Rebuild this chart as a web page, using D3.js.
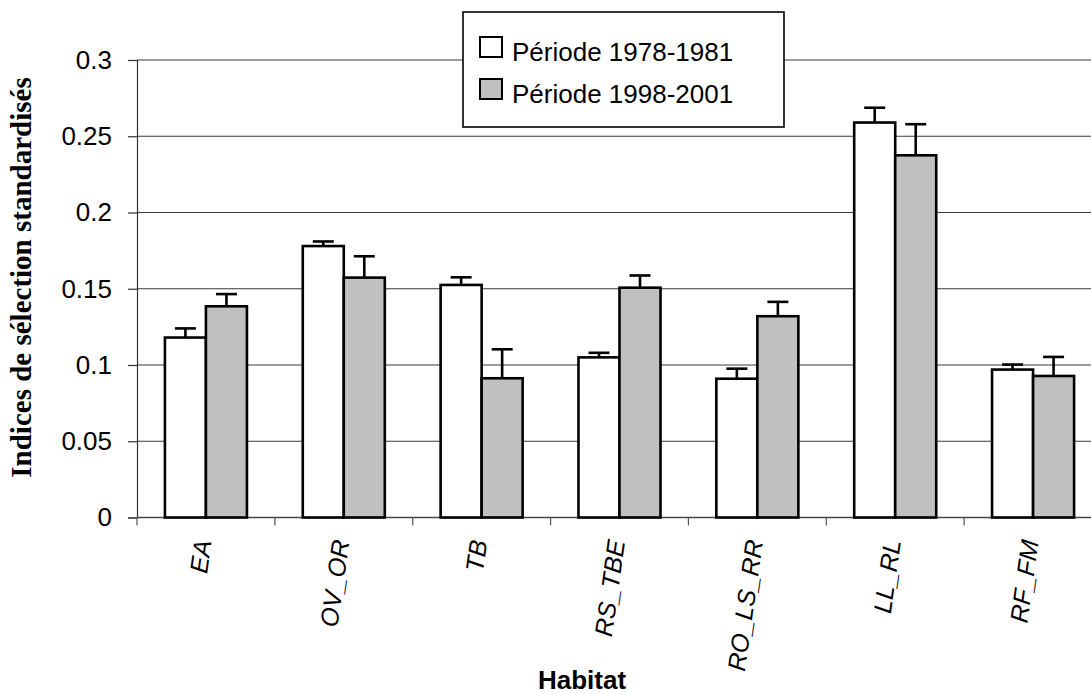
<!DOCTYPE html>
<meta charset="utf-8">
<html>
  <head>
    <script src="https://d3js.org/d3.v7.min.js"></script>
    <title>Indices de sélection standardisés par habitat</title>
    <style>
      body { margin: 0; background: white; }
      svg { display: block; }
      text { font-family: "Liberation Sans", Arial, sans-serif; fill: black; }
    </style>
  </head>
  <body>
  </body>
  <script>

const habitats = ['EA', 'OV_OR', 'TB', 'RS_TBE', 'RO_LS_RR', 'LL_RL', 'RF_FM'];
const periods = ['Période 1978-1981', 'Période 1998-2001'];

// means and (upper) error bars
const values_1978 = [0.118, 0.178, 0.1525, 0.105, 0.091, 0.259, 0.097];
const errors_1978 = [0.006, 0.003, 0.005, 0.003, 0.0066, 0.0097, 0.0033];
const values_1998 = [0.1385, 0.1573, 0.0913, 0.1507, 0.132, 0.2375, 0.0928];
const errors_1998 = [0.008, 0.014, 0.019, 0.008, 0.0094, 0.0204, 0.0125];

const y_ticks = [0, 0.05, 0.1, 0.15, 0.2, 0.25, 0.3];
const y_tick_labels = ['0', '0.05', '0.1', '0.15', '0.2', '0.25', '0.3'];

const width = 1091,
      height = 694,
      plot_left = 137, plot_right = 1102, plot_top = 60, plot_bottom = 517.5,
      fills = ['#ffffff', '#c0c0c0'];

const svg = d3.select('body')
  .append('svg')
  .attr('width', width)
  .attr('height', height);

const x0 = d3.scaleBand().domain(habitats).range([plot_left, plot_right]).paddingInner(0.405).paddingOuter(0.2025),
      x1 = d3.scaleBand().domain(periods).range([0, x0.bandwidth()]),
      y = d3.scaleLinear().domain([0, 0.3]).range([plot_bottom, plot_top]);

const rows = habitats.map((h, i) => ({
  habitat: h,
  bars: [
    { period: periods[0], value: values_1978[i], err: errors_1978[i], fill: fills[0] },
    { period: periods[1], value: values_1998[i], err: errors_1998[i], fill: fills[1] }
  ]
}));

// gridlines
svg.append('g')
  .selectAll('line')
  .data(y_ticks.slice(1))
  .join('line')
    .attr('x1', plot_left).attr('x2', width)
    .attr('y1', d => y(d)).attr('y2', d => y(d))
    .style('stroke', '#3a3a3a')
    .style('stroke-width', 1.2);

// y axis
const y_axis = svg.append('g')
  .attr('transform', `translate(${plot_left},0)`)
  .call(d3.axisLeft(y).tickValues(y_ticks).tickSize(9).tickPadding(16)
    .tickFormat((d, i) => y_tick_labels[i]));
y_axis.select('.domain').style('stroke', '#333').style('stroke-width', 1.2);
y_axis.selectAll('.tick line').style('stroke', '#333').style('stroke-width', 1.2);
y_axis.selectAll('.tick text')
  .style('font-size', '26px')
  .style('font-family', '"Liberation Sans", Arial, sans-serif');

// x axis: baseline and ticks at band boundaries
const step = x0.step(),
      boundaries = habitats.map(h => x0(h) - step * x0.paddingInner() / 2).concat([plot_right]);

svg.append('line')
  .attr('x1', plot_left).attr('x2', width)
  .attr('y1', plot_bottom).attr('y2', plot_bottom)
  .style('stroke', '#474747')
  .style('stroke-width', 1.5);

svg.append('g')
  .selectAll('line')
  .data(boundaries)
  .join('line')
    .attr('x1', d => d).attr('x2', d => d)
    .attr('y1', plot_bottom).attr('y2', plot_bottom + 8)
    .style('stroke', '#555')
    .style('stroke-width', 1.2);

// bars
const group = svg.append('g')
  .selectAll('g')
  .data(rows)
  .join('g')
    .attr('transform', d => `translate(${x0(d.habitat)},0)`);

group.selectAll('rect')
  .data(d => d.bars)
  .join('rect')
    .attr('x', d => x1(d.period))
    .attr('y', d => y(d.value))
    .attr('width', x1.bandwidth())
    .attr('height', d => plot_bottom - y(d.value))
    .style('fill', d => d.fill)
    .style('stroke', 'black')
    .style('stroke-width', 2.6);

// error bars (upper only)
const cap = 21;
const err = group.selectAll('g.err')
  .data(d => d.bars)
  .join('g')
    .attr('class', 'err')
    .attr('transform', d => `translate(${x1(d.period) + x1.bandwidth() / 2},0)`);

err.append('line')
  .attr('x1', 0).attr('x2', 0)
  .attr('y1', d => y(d.value)).attr('y2', d => y(d.value + d.err))
  .style('stroke', 'black').style('stroke-width', 2.6);

err.append('line')
  .attr('x1', -cap / 2).attr('x2', cap / 2)
  .attr('y1', d => y(d.value + d.err)).attr('y2', d => y(d.value + d.err))
  .style('stroke', 'black').style('stroke-width', 2.6);

// category labels
svg.append('g')
  .selectAll('text')
  .data(habitats)
  .join('text')
    .attr('transform', d => `translate(${x0(d) + x0.bandwidth() / 2 - 3},540) rotate(-82)`)
    .attr('text-anchor', 'end')
    .attr('dy', '0.35em')
    .style('font-size', '25px')
    .style('font-style', 'italic')
    .text(d => d);

// axis titles
svg.append('text')
  .attr('x', 582)
  .attr('y', 689)
  .attr('text-anchor', 'middle')
  .style('font-size', '26px')
  .style('font-weight', 'bold')
  .text('Habitat');

svg.append('text')
  .attr('transform', 'translate(31,277.5) rotate(-90)')
  .attr('text-anchor', 'middle')
  .style('font-family', '"Liberation Serif", "Times New Roman", serif')
  .style('font-size', '29px')
  .style('font-weight', 'bold')
  .text('Indices de sélection standardisés');

// legend
const legend = svg.append('g');

legend.append('rect')
  .attr('x', 463).attr('y', 12)
  .attr('width', 321).attr('height', 115)
  .style('fill', 'white')
  .style('stroke', 'black')
  .style('stroke-width', 1.6);

const item = legend.selectAll('g')
  .data(periods)
  .join('g')
    .attr('transform', (d, i) => `translate(480,${37 + i * 42})`);

item.append('rect')
  .attr('width', 22).attr('height', 20)
  .style('fill', (d, i) => fills[i])
  .style('stroke', 'black')
  .style('stroke-width', 2);

item.append('text')
  .attr('x', 32)
  .attr('y', 24)
  .style('font-size', '26px')
  .text(d => d);

  </script>
</html>
